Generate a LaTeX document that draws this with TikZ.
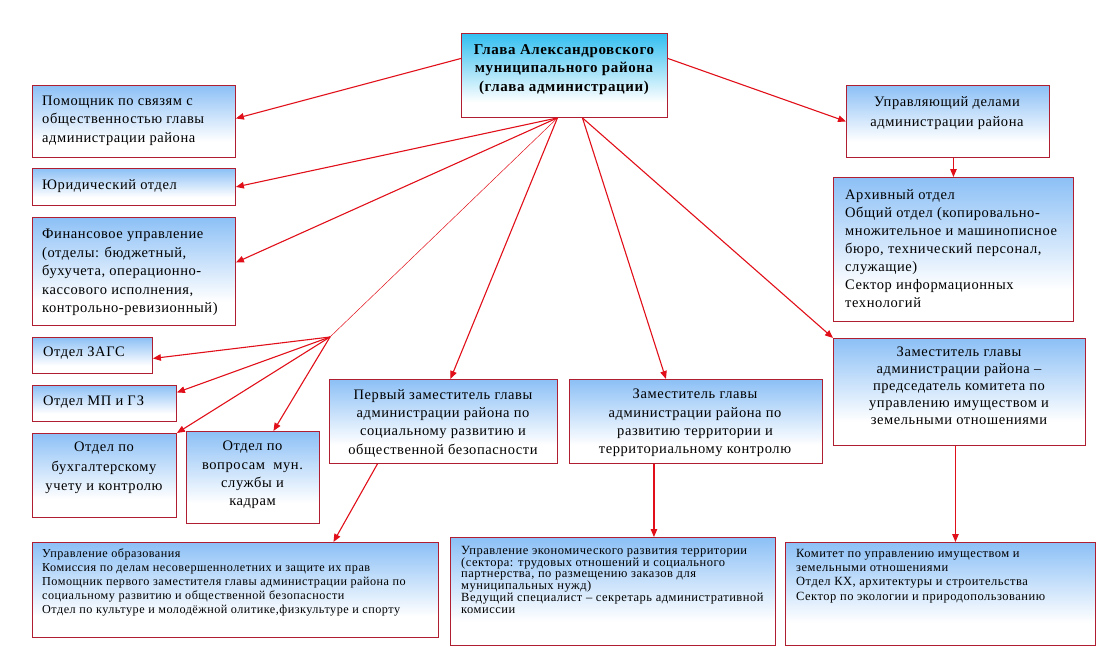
\documentclass[tikz,border=0pt]{standalone}
\usepackage{fontspec}
\setmainfont{Liberation Serif}[LetterSpace=4]
\newfontfamily\serfont{Liberation Serif}[LetterSpace=4]
\usetikzlibrary{arrows.meta,calc}
\definecolor{boxblue}{RGB}{140,192,246}
\definecolor{headblue}{RGB}{50,190,240}
\definecolor{framered}{RGB}{176,30,50}
\definecolor{arrred}{RGB}{225,15,25}
\pgfdeclareverticalshading{boxshade}{100bp}{color(0bp)=(white); color(25bp)=(white); color(36bp)=(white); color(75bp)=(boxblue); color(100bp)=(boxblue)}
\pgfdeclareverticalshading{headshade}{100bp}{color(0bp)=(white); color(25bp)=(white); color(34bp)=(white); color(75bp)=(headblue); color(100bp)=(headblue)}
\newcommand\bodyfs{\serfont\fontsize{14.5}{18.3}\selectfont}
\newcommand\smallfs{\serfont\fontsize{12.2}{14}\selectfont}
\newcommand\obox[6][box]{\node[#1,anchor=north west,minimum width={(#5-#3)*1pt},minimum height={(#6-#4)*1pt}] (#2) at (#3,#4) {};}
\tikzset{
 box/.style={rectangle,draw=framered,line width=0.9pt,shading=boxshade,inner sep=0pt},
 headbox/.style={box,shading=headshade},
 txt/.style={inner sep=0pt,align=left,font=\bodyfs,anchor=north west},
 ctxt/.style={inner sep=0pt,align=center,font=\bodyfs,anchor=north},
 arr/.style={draw=arrred,line width=1.1pt,-{Triangle[length=8pt,width=6.5pt]}},
 thinline/.style={draw=arrred,line width=0.5pt}
}
\begin{document}
\begin{tikzpicture}[x=1pt,y=-1pt]
\useasboundingbox (0,0) rectangle (1105,666);
% boxes
\obox[headbox]{head}{461}{33}{667}{117}
\obox{pom}{32}{85}{235}{157}
\obox{yur}{32}{168}{235}{205}
\obox{fin}{32}{217}{235}{325}
\obox{zags}{32}{337}{152}{373}
\obox{mp}{32}{385}{176}{421}
\obox{buh}{32}{433}{176}{517}
\obox{mun}{186}{431}{319}{523}
\obox{perv}{329}{379}{557}{463}
\obox{zt}{569}{379}{822}{463}
\obox{ud}{846}{85}{1049}{157}
\obox{arh}{833}{177}{1073}{321}
\obox{zp}{833}{338}{1085}{445}
\obox{obr}{32}{542}{438}{637}
\obox{eco}{450}{537}{775}{645}
\obox{kom}{785}{542}{1095}{645}
% texts
\node[ctxt,font=\serfont\fontsize{15}{18.7}\selectfont\bfseries] (t-head) at (564,44) {Глава Александровского\\муниципального района\\(глава администрации)};
\node[txt] (t-pom) at (42,96) {Помощник по связям с\\общественностью главы\\администрации района};
\node[txt] (t-yur) at (42,179) {Юридический отдел};
\node[txt,font=\serfont\fontsize{14.5}{18.5}\selectfont] (t-fin) at (42,229) {Финансовое управление\\(отделы: бюджетный,\\бухучета, операционно-\\кассового исполнения,\\контрольно-ревизионный)};
\node[txt] (t-zags) at (43,347) {Отдел ЗАГС};
\node[txt] (t-mp) at (43,396) {Отдел МП и ГЗ};
\node[ctxt,font=\serfont\fontsize{14.5}{19.5}\selectfont] (t-buh) at (104,442) {Отдел по\\бухгалтерскому\\учету и контролю};
\node[ctxt] (t-mun) at (252.5,441) {Отдел по\\вопросам~~мун.\\службы и\\кадрам};
\node[ctxt] (t-perv) at (443,389) {Первый заместитель главы\\администрации района по\\социальному развитию и\\общественной безопасности};
\node[ctxt] (t-zt) at (695,389) {Заместитель главы\\администрации района по\\развитию территории и\\территориальному контролю};
\node[ctxt,font=\serfont\fontsize{14.5}{20}\selectfont] (t-ud) at (947,96) {Управляющий делами\\администрации района};
\node[txt,font=\serfont\fontsize{14.5}{18}\selectfont] (t-arh) at (845,189) {Архивный отдел\\Общий отдел (копировально-\\множительное и машинописное\\бюро, технический персонал,\\служащие)\\Сектор информационных\\технологий};
\node[ctxt,font=\serfont\fontsize{14.5}{16.8}\selectfont] (t-zp) at (959,347) {Заместитель главы\\администрации района –\\председатель комитета по\\управлению имуществом и\\земельными отношениями};
\node[txt,font=\smallfs] (t-obr) at (42,549) {Управление образования\\Комиссия по делам несовершеннолетних и защите их прав\\Помощник первого заместителя главы администрации района по\\социальному развитию и общественной безопасности\\Отдел по культуре и молодёжной олитике,физкультуре и спорту};
\node[txt,font=\serfont\fontsize{12.5}{11.8}\selectfont] (t-eco) at (461,546) {Управление экономического развития территории\\(сектора: трудовых отношений и социального\\партнерства, по размещению заказов для\\муниципальных нужд)\\Ведущий специалист – секретарь административной\\комиссии};
\node[txt,font=\serfont\fontsize{12.5}{14.3}\selectfont] (t-kom) at (796,549) {Комитет по управлению имуществом и\\земельными отношениями\\Отдел КХ, архитектуры и строительства\\Сектор по экологии и природопользованию};
% connectors
\coordinate (hl) at ([xshift=-7pt]head.south);
\coordinate (hr) at ([xshift=18pt]head.south);
\coordinate (fan) at (330,337);
\draw[arr] ([yshift=17pt]head.west) -- ([yshift=3pt]pom.east);
\draw[arr] (hl) -- (yur.east);
\draw[arr] (hl) -- ([yshift=9pt]fin.east);
\draw[thinline] (hl) -- (fan);
\draw[arr] (fan) -- ([yshift=-3pt]zags.east);
\draw[arr] (fan) -- ([yshift=11pt]mp.east);
\draw[arr] (fan) -- (buh.north east);
\draw[arr] (fan) -- ([xshift=20.5pt]mun.north);
\draw[arr] (hl) -- ([xshift=7pt]perv.north);
\draw[arr] (hr) -- ([xshift=-30pt]zt.north);
\draw[arr] (hr) -- (zp.north west);
\draw[arr] ([yshift=17pt]head.east) -- (ud.west);
\draw[arr] (arh.north |- ud.south) -- (arh.north);
\draw[arr] ([xshift=-66pt]perv.south) -- ([xshift=98pt]obr.north);
\coordinate (zts) at ([xshift=-42pt]zt.south);
\draw[arr] (zts) -- (zts |- eco.north);
\coordinate (zps) at ([xshift=-4pt]zp.south);
\draw[arr] (zps) -- (zps |- kom.north);
\end{tikzpicture}
\end{document}
